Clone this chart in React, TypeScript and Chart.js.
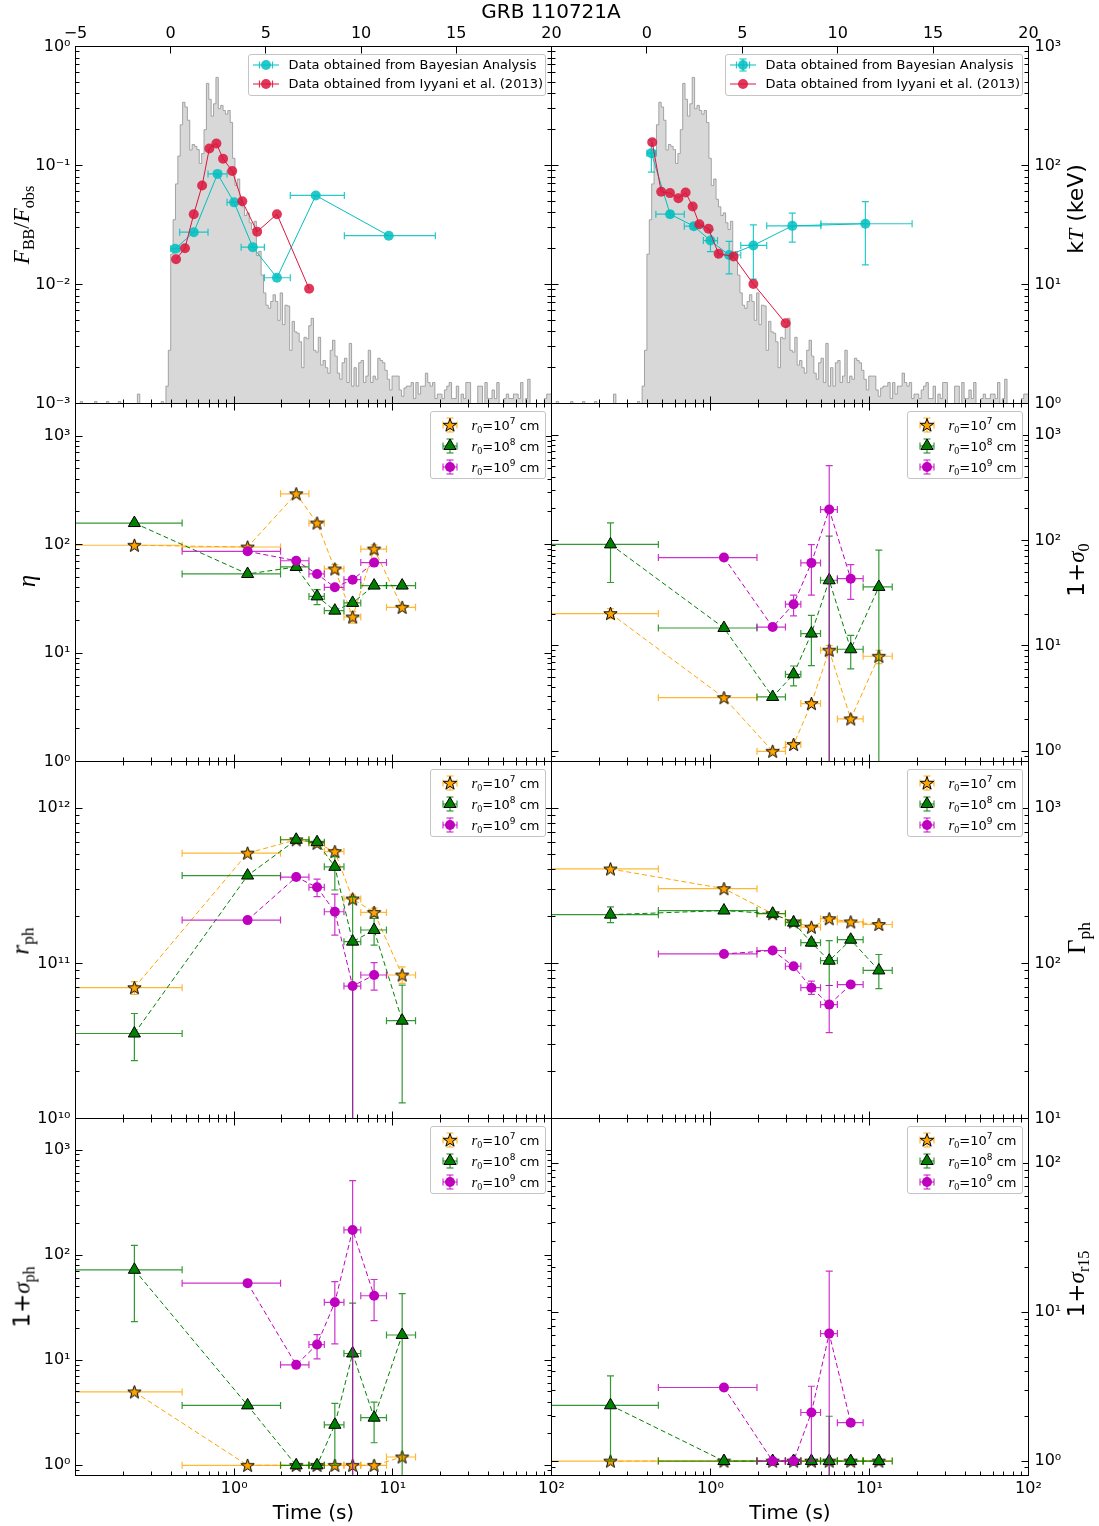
import React, { useEffect, useRef } from "react";
import { Chart, registerables } from "chart.js";

Chart.register(...registerables);

const PAGE_W = 1099;
const PAGE_H = 1526;
const SANS = '"DejaVu Sans", sans-serif';
const SERIF = '"Liberation Serif", "DejaVu Serif", serif';

// ---------------- data ----------------
// light curve (counts histogram), bins of LC_BIN seconds starting at LC_START
const LC_START = -5;
const LC_BIN = 0.125;
const LC_END = 20;
const LIGHT_CURVE = [
  0.0009, 0.0009, 0.0009, 0.00104, 0.0009, 0.0009, 0.0009, 0.0009,
  0.0009, 0.00104, 0.0009, 0.0009, 0.0009, 0.0009, 0.00104, 0.0009,
  0.0009, 0.0009, 0.0009, 0.00104, 0.0009, 0.0009, 0.0009, 0.0009,
  0.0009, 0.0009, 0.0009, 0.0012, 0.0009, 0.0009, 0.0009, 0.0009,
  0.0009, 0.0009, 0.0009, 0.0009, 0.0009, 0.00104, 0.0009, 0.0014,
  0.0028, 0.018, 0.035, 0.07, 0.12, 0.22, 0.34, 0.31,
  0.24, 0.135, 0.15, 0.145, 0.136, 0.104, 0.126, 0.2,
  0.49, 0.36, 0.26, 0.33, 0.55, 0.3, 0.32, 0.29,
  0.27, 0.29, 0.23, 0.115, 0.068, 0.077, 0.052, 0.045,
  0.038, 0.04, 0.033, 0.029, 0.034, 0.0175, 0.019, 0.012,
  0.0085, 0.0067, 0.0063, 0.0072, 0.0082, 0.0072, 0.005, 0.0085,
  0.0046, 0.0067, 0.0066, 0.0028, 0.0049, 0.004, 0.0039, 0.0033,
  0.002, 0.0036, 0.0035, 0.0045, 0.0052, 0.0028, 0.0027, 0.0036,
  0.0021, 0.0023, 0.002, 0.0018, 0.0028, 0.0034, 0.0025, 0.0018,
  0.0016, 0.0022, 0.0024, 0.0015, 0.0032, 0.0014, 0.002, 0.0014,
  0.0022, 0.0023, 0.0015, 0.0017, 0.0028, 0.0015, 0.0017, 0.0016,
  0.0024, 0.0023, 0.0022, 0.0019, 0.0016, 0.0013, 0.0017, 0.0017,
  0.0017, 0.0013, 0.00115, 0.00135, 0.0014, 0.0014, 0.0015, 0.0011,
  0.0015, 0.0012, 0.0014, 0.0014, 0.0018, 0.0015, 0.0014, 0.0015,
  0.0011, 0.0012, 0.0012, 0.0011, 0.0013, 0.0014, 0.0015, 0.0011,
  0.0011, 0.0014, 0.0009, 0.0012, 0.0011, 0.0015, 0.0015, 0.0009,
  0.0009, 0.0009, 0.0014, 0.0014, 0.0009, 0.0015, 0.0011, 0.0011,
  0.0013, 0.0011, 0.0015, 0.0009, 0.0009, 0.0011, 0.0012, 0.0011,
  0.0011, 0.0012, 0.0012, 0.0011, 0.0015, 0.0009, 0.0011, 0.0016,
  0.0009, 0.0009, 0.0009, 0.0009, 0.0009, 0.0009, 0.0011, 0.0012,
];

// time bins of the Bayesian analysis
const TIME_BIN_CENTER = [0.235, 1.215, 2.46, 3.33, 4.31, 5.58, 7.62, 11.45];
const TIME_BIN_START = [0, 0.47, 1.96, 2.96, 3.7, 4.92, 6.28, 9.12];
const TIME_BIN_END = [0.47, 1.96, 2.96, 3.7, 4.92, 6.28, 9.12, 13.9];

// top panels
const BAYES_FBB = [0.02, 0.0275, 0.085, 0.049, 0.0206, 0.0114, 0.056, 0.0257];
const IYYANI_TIME = [0.28, 0.75, 1.21, 1.65, 2.03, 2.4, 2.75, 3.23, 3.76, 4.54, 5.58, 7.27];
const IYYANI_FBB = [0.0163, 0.0202, 0.039, 0.068, 0.139, 0.153, 0.114, 0.09, 0.05, 0.0278, 0.039, 0.0092];
const BAYES_KT = [127, 39, 30.9, 23.4, 17.7, 21.3, 31.1, 32.4];
const BAYES_KT_LO = [88, 36.8, 29.3, 18.9, 12.3, 11.1, 22.7, 14.6];
const BAYES_KT_HI = [164, 41.1, 32.6, 28.8, 23, 31.7, 39.8, 49.8];
const IYYANI_KT = [157, 60.1, 58.6, 53.1, 59.3, 45.2, 32.1, 29.4, 18.1, 17.2, 10.1, 4.73];

// eta
const ETA_R7 = [98.6, 95, 294, 158, 59.6, 21.5, 91, 26.4];
const ETA_R7_LO = [95, 92, 285, 152, 54.7, 18.9, 82, 25];
const ETA_R7_HI = [102, 98, 303, 164, 65.3, 24.1, 99.3, 27.8];
const ETA_R8 = [158, 53.6, 62.2, 33.3, 24.6, 29, 41.9, 41.9];
const ETA_R8_LO = [152, 51.5, 59.5, 27.9, 23.5, 27.5, 40.5, 40.5];
const ETA_R8_HI = [164, 55.8, 65, 38.5, 25.8, 30.5, 43.4, 43.4];
const ETA_R9 = [null, 86.7, 71, 53.6, 40.4, 47.5, 68.2, null];
const ETA_R9_LO = [null, 84, 68.5, 51.5, 38.8, 45.5, 65.5, null];
const ETA_R9_HI = [null, 89.5, 73.5, 55.8, 42, 49.5, 71, null];

// 1 + sigma_0
const S0_R7 = [20.3, 3.23, 1.0, 1.16, 2.84, 9.1, 2.03, 7.98];
const S0_R7_LO = [18.2, 3.1, 0.97, 1.1, 2.7, 8.15, 1.95, 6.8];
const S0_R7_HI = [22.6, 3.35, 1.03, 1.22, 3.0, 10.1, 2.12, 9.1];
const S0_R8 = [92, 14.8, 3.28, 5.38, 13.1, 42, 9.3, 36.3];
const S0_R8_LO = [40, 14.3, 3.1, 4.17, 6.5, 0.01, 6.05, 0.01];
const S0_R8_HI = [147, 15.3, 3.45, 6.45, 19.5, 110, 12.6, 81];
const S0_R9 = [null, 69, 15.1, 24.9, 61.4, 197, 43.5, null];
const S0_R9_LO = [null, 67, 14.6, 19.3, 30.3, 0.01, 27.7, null];
const S0_R9_HI = [null, 71, 15.6, 30.3, 91.6, 515, 59, null];

// r_ph
const RPH_R7 = [6.97e10, 5.13e11, 6.26e11, 5.94e11, 5.25e11, 2.6e11, 2.13e11, 8.41e10];
const RPH_R7_LO = [6.3e10, 4.95e11, 6.1e11, 5.75e11, 5.05e11, 2.45e11, 2.0e11, 7.43e10];
const RPH_R7_HI = [7.62e10, 5.3e11, 6.45e11, 6.15e11, 5.45e11, 2.75e11, 2.27e11, 9.5e10];
const RPH_R8 = [3.53e10, 3.68e11, 6.26e11, 6.04e11, 4.19e11, 1.38e11, 1.64e11, 4.27e10];
const RPH_R8_LO = [2.36e10, 3.6e11, 6.1e11, 5.85e11, 2.97e11, 1e9, 1.31e11, 1.26e10];
const RPH_R8_HI = [4.75e10, 3.76e11, 6.4e11, 6.25e11, 4.88e11, 2.69e11, 1.95e11, 7.24e10];
const RPH_R9 = [null, 1.9e11, 3.6e11, 3.09e11, 2.15e11, 7.14e10, 8.41e10, null];
const RPH_R9_LO = [null, 1.86e11, 3.5e11, 2.69e11, 1.52e11, 1e9, 6.73e10, null];
const RPH_R9_HI = [null, 1.94e11, 3.7e11, 3.49e11, 2.79e11, 7.3e10, 1.01e11, null];

// Gamma_ph
const GPH_R7 = [406, 303, 209, 185, 171, 194, 185, 178];
const GPH_R7_LO = [396, 295, 204, 180, 165, 188, 180, 173];
const GPH_R7_HI = [416, 311, 214, 190, 177, 200, 190, 183];
const GPH_R8 = [206, 219, 209, 183, 136, 104, 142, 90];
const GPH_R8_LO = [183, 213, 203, 177, 129, 72, 136, 68.7];
const GPH_R8_HI = [231, 225, 215, 189, 143, 140, 148, 114];
const GPH_R9 = [null, 115, 121, 95.8, 69.7, 54.2, 73, null];
const GPH_R9_LO = [null, 113, 119, 93, 63.1, 35.8, 70.5, null];
const GPH_R9_HI = [null, 117, 123, 98.6, 76.9, 72, 75.6, null];

// 1 + sigma_ph
const SPH_R7 = [5.0, 1.0, 1.0, 1.0, 1.0, 1.0, 1.0, 1.2];
const SPH_R8 = [72.6, 3.72, 1.0, 1.0, 2.43, 11.6, 2.84, 17.4];
const SPH_R8_LO = [23.3, 3.6, null, null, 1.0, 0.01, 1.64, 0.01];
const SPH_R8_HI = [124, 3.85, null, null, 3.88, 35, 4.0, 43];
const SPH_R9 = [null, 54.2, 9.04, 14.1, 35.6, 174, 41.1, null];
const SPH_R9_LO = [null, null, null, 10.3, 14.3, 0.01, 23.8, null];
const SPH_R9_HI = [null, null, null, 17.5, 56, 512, 58.7, null];

// 1 + sigma_r15
const SR15_R7 = [1.0, 1.0, 1.0, 1.0, 1.0, 1.0, 1.0, 1.0];
const SR15_R8 = [2.37, 1.0, 1.0, 1.0, 1.0, 1.0, 1.0, 1.0];
const SR15_R8_LO = [1.0, null, null, null, null, 0.01, null, null];
const SR15_R8_HI = [3.73, null, null, null, null, 2.0, null, null];
const SR15_R9 = [null, 3.12, 1.0, 1.0, 2.12, 7.18, 1.81, null];
const SR15_R9_LO = [null, null, null, null, 1.0, 0.01, null, null];
const SR15_R9_HI = [null, null, null, null, 3.18, 18.9, null, null];

const TOP_TICKS = [-5, 0, 5, 10, 15, 20];
const R0_EXPONENTS = ["7", "8", "9"];

// ---------------- layout ----------------
const COLS = [
  [75.5, 551.5],
  [551.5, 1028.5],
];
const ROWS = [
  [46.5, 403.5],
  [403.5, 761.5],
  [761.5, 1118.5],
  [1118.5, 1475.5],
];
const Y_AXIS_W = 66;
const X_AXIS_H = 30;

const R0_COLOR = ["#FFA500", "#008000", "#BF00BF"];
const R0_ERR = ["rgba(255,165,0,0.8)", "rgba(0,128,0,0.8)", "rgba(191,0,191,0.8)"];
const CYAN = "#00BFBF";
const CYAN_A = "rgba(0,191,191,0.85)";
const RED = "#DC143C";
const RED_A = "rgba(220,20,60,0.85)";

const SUP: Record<string, string> = {
  "0": "\u2070", "1": "\u00b9", "2": "\u00b2", "3": "\u00b3", "4": "\u2074",
  "5": "\u2075", "6": "\u2076", "7": "\u2077", "8": "\u2078", "9": "\u2079", "-": "\u207b",
};
const pow10Label = (v: number) => {
  const e = Math.round(Math.log10(v));
  return "10" + String(e).split("").map((c) => SUP[c]).join("");
};
const decades = (min: number, max: number) => {
  const out: number[] = [];
  for (let e = Math.ceil(Math.log10(min) - 1e-9); e <= Math.floor(Math.log10(max) + 1e-9); e++) out.push(Number("1e" + e));
  return out;
};
const logTicks = (min: number, max: number) => {
  const out: { v: number; major: boolean }[] = [];
  for (let e = Math.floor(Math.log10(min)) - 1; e <= Math.ceil(Math.log10(max)); e++) {
    for (let k = 1; k <= 9; k++) {
      const v = k * Number("1e" + e);
      if (v >= min * (1 - 1e-9) && v <= max * (1 + 1e-9)) out.push({ v, major: k === 1 });
    }
  }
  return out;
};

// ---------------- plugins ----------------
const errorBarPlugin = {
  id: "errorBars",
  beforeDatasetDraw(chart: any, args: any) {
    const ds: any = chart.data.datasets[args.index];
    if (!ds.errorBars) return;
    const xs = chart.scales[ds.xAxisID];
    const ys = chart.scales[ds.yAxisID];
    const a = chart.chartArea;
    const ctx = chart.ctx;
    const px = (s: any, v: number) =>
      s.getPixelForValue(s.type === "logarithmic" && v <= 0 ? s.min / 1000 : v);
    const cap = 3.5;
    ctx.save();
    ctx.beginPath();
    ctx.rect(a.left, a.top, a.right - a.left, a.bottom - a.top);
    ctx.clip();
    ctx.strokeStyle = ds.errorColor;
    ctx.lineWidth = 1.2;
    ctx.setLineDash([]);
    ds.data.forEach((p: any, i: number) => {
      if (p.y == null) return;
      const e = ds.errorBars[i];
      if (!e) return;
      const cx = px(xs, p.x);
      const cy = px(ys, p.y);
      ctx.beginPath();
      if (e.xLo != null && e.xHi != null) {
        const x0 = px(xs, e.xLo);
        const x1 = px(xs, e.xHi);
        ctx.moveTo(x0, cy); ctx.lineTo(x1, cy);
        ctx.moveTo(x0, cy - cap); ctx.lineTo(x0, cy + cap);
        ctx.moveTo(x1, cy - cap); ctx.lineTo(x1, cy + cap);
      }
      if (e.yLo != null && e.yHi != null) {
        const y0 = px(ys, e.yLo);
        const y1 = px(ys, e.yHi);
        ctx.moveTo(cx, y0); ctx.lineTo(cx, y1);
        ctx.moveTo(cx - cap, y0); ctx.lineTo(cx + cap, y0);
        ctx.moveTo(cx - cap, y1); ctx.lineTo(cx + cap, y1);
      }
      ctx.stroke();
    });
    ctx.restore();
  },
};

const tickList = (s: any) =>
  s.type === "logarithmic" ? logTicks(s.min, s.max) : s.ticks.map((t: any) => ({ v: t.value, major: true }));

const framePlugin = {
  id: "frame",
  afterDraw(chart: any, _args: any, opts: any) {
    const a = chart.chartArea;
    const ctx = chart.ctx;
    const MAJ = 7;
    const MIN = 4;
    ctx.save();
    ctx.strokeStyle = "#000";
    ctx.lineWidth = 1;
    ctx.setLineDash([]);
    const snap = (p: number) => Math.floor(p) + 0.5;
    const xTicks = (id: string, edge: string) => {
      const s = chart.scales[id];
      if (!s) return;
      for (const t of tickList(s)) {
        const p = snap(s.getPixelForValue(t.v));
        if (p < a.left - 1 || p > a.right + 1) continue;
        const L = t.major ? MAJ : MIN;
        ctx.beginPath();
        if (edge === "top") { ctx.moveTo(p, a.top); ctx.lineTo(p, a.top + L); }
        else { ctx.moveTo(p, a.bottom); ctx.lineTo(p, a.bottom - L); }
        ctx.stroke();
      }
    };
    const yTicks = (id: string) => {
      const s = chart.scales[id];
      if (!s) return;
      for (const t of tickList(s)) {
        const p = snap(s.getPixelForValue(t.v));
        if (p < a.top - 1 || p > a.bottom + 1) continue;
        const L = t.major ? MAJ : MIN;
        ctx.beginPath();
        ctx.moveTo(a.left, p); ctx.lineTo(a.left + L, p);
        ctx.moveTo(a.right, p); ctx.lineTo(a.right - L, p);
        ctx.stroke();
      }
    };
    xTicks(opts.top, "top");
    xTicks(opts.bottom, "bottom");
    yTicks(opts.y);
    ctx.strokeRect(a.left, a.top, a.right - a.left, a.bottom - a.top);
    ctx.restore();
  },
};

// ---------------- scales ----------------
const fitSize = (axis: string, size: number) => (s: any) => {
  if (axis === "x") s.height = size;
  else s.width = size;
  s.paddingLeft = 0; s.paddingRight = 0; s.paddingTop = 0; s.paddingBottom = 0;
};

function logAxis(axis: string, position: string, min: number, max: number, showLabels: boolean, hide: number[], pad: number) {
  const size = showLabels ? (axis === "x" ? X_AXIS_H : Y_AXIS_W) : 0;
  return {
    axis, type: "logarithmic", position, min, max, bounds: "data",
    grid: { display: false, drawTicks: false },
    border: { display: false },
    ticks: {
      display: showLabels, autoSkip: false, maxRotation: 0, minRotation: 0, padding: pad, color: "#000",
      font: { family: SANS, size: 16 },
      callback: (v: number) => (hide.some((h) => Math.abs(v / h - 1) < 1e-6) ? "" : pow10Label(v)),
    },
    afterBuildTicks: (s: any) => { s.ticks = decades(min, max).map((v) => ({ value: v })); },
    afterFit: fitSize(axis, size),
  };
}

function linTopAxis(hideFirst: boolean) {
  return {
    axis: "x", type: "linear", position: "top", min: -5, max: 20, bounds: "data",
    grid: { display: false, drawTicks: false },
    border: { display: false },
    ticks: {
      autoSkip: false, maxRotation: 0, minRotation: 0, padding: 3, color: "#000",
      font: { family: SANS, size: 16 },
      callback: (v: number) => (hideFirst && v === -5 ? "" : v < 0 ? "\u2212" + Math.abs(v) : String(v)),
    },
    afterBuildTicks: (s: any) => { s.ticks = TOP_TICKS.map((v) => ({ value: v })); },
    afterFit: fitSize("x", X_AXIS_H),
  };
}

function commonOptions(col: number, row: number, sides: { left: number; right: number; top: number; bottom: number }) {
  const [x0, x1] = COLS[col];
  const [y0, y1] = ROWS[row];
  return {
    responsive: false,
    maintainAspectRatio: false,
    animation: false,
    events: [],
    layout: {
      autoPadding: false,
      padding: {
        left: x0 - sides.left,
        right: PAGE_W - x1 - sides.right,
        top: y0 - sides.top,
        bottom: PAGE_H - y1 - sides.bottom,
      },
    },
  };
}

// ---------------- markers ----------------
let STAR_CANVAS: HTMLCanvasElement | null = null;
function starPoints(cx: number, cy: number, R: number, r: number) {
  const pts: [number, number][] = [];
  for (let k = 0; k < 10; k++) {
    const ang = -Math.PI / 2 + (k * Math.PI) / 5;
    const rr = k % 2 === 0 ? R : r;
    pts.push([cx + rr * Math.cos(ang), cy + rr * Math.sin(ang)]);
  }
  return pts;
}
function starImage() {
  if (STAR_CANVAS) return STAR_CANVAS;
  const c = document.createElement("canvas");
  c.width = 17; c.height = 17;
  const g = c.getContext("2d")!;
  const pts = starPoints(8.5, 9, 7, 2.8);
  g.beginPath();
  pts.forEach(([x, y], i) => (i ? g.lineTo(x, y) : g.moveTo(x, y)));
  g.closePath();
  g.fillStyle = R0_COLOR[0];
  g.fill();
  g.lineWidth = 1;
  g.strokeStyle = "#000";
  g.stroke();
  STAR_CANVAS = c;
  return c;
}

// ---------------- datasets ----------------
type Arr = (number | null)[];
function r0Dataset(kind: number, ys: Arr, lo: Arr | null, hi: Arr | null) {
  const c = R0_COLOR[kind];
  return {
    data: TIME_BIN_CENTER.map((t, i) => ({ x: t, y: ys[i] })),
    xAxisID: "x", yAxisID: "y", order: 3 - kind,
    borderColor: c, borderWidth: 1, borderDash: [5, 3], fill: false, spanGaps: false,
    pointStyle: kind === 0 ? starImage() : kind === 1 ? "triangle" : "circle",
    pointRadius: kind === 0 ? 7 : kind === 1 ? 7 : 5,
    pointBackgroundColor: c,
    pointBorderColor: kind === 2 ? c : "#000",
    pointBorderWidth: kind === 2 ? 0 : 1,
    errorBars: TIME_BIN_CENTER.map((_, i) => ({
      xLo: TIME_BIN_START[i], xHi: TIME_BIN_END[i],
      yLo: lo ? lo[i] : null, yHi: hi ? hi[i] : null,
    })),
    errorColor: R0_ERR[kind],
  };
}

function lightCurveDataset(yAxisID: string) {
  const pts = LIGHT_CURVE.map((v, i) => ({ x: LC_START + i * LC_BIN, y: v }));
  pts.push({ x: LC_END, y: LIGHT_CURVE[LIGHT_CURVE.length - 1] });
  return {
    data: pts, xAxisID: "xt", yAxisID, stepped: "after", fill: "start", clip: 0,
    backgroundColor: "rgb(216,216,216)", borderColor: "rgba(150,150,150,0.85)", borderWidth: 1,
    pointRadius: 0, order: 10,
  };
}

function topPanel(col: number) {
  const left = col === 0;
  const bayesY = left ? BAYES_FBB : BAYES_KT;
  const iyyY = left ? IYYANI_FBB : IYYANI_KT;
  const scales: any = {
    xt: linTopAxis(!left),
    x: logAxis("x", "bottom", 0.1, 100, false, [], 4),
    y: left ? logAxis("y", "left", 1e-3, 1, true, [], 5) : logAxis("y", "right", 1, 1000, true, [], 6),
  };
  if (!left) scales.yh = { axis: "y", type: "logarithmic", position: "left", display: false, min: 1e-3, max: 1 };
  return {
    type: "line",
    data: {
      datasets: [
        lightCurveDataset(left ? "y" : "yh"),
        {
          data: TIME_BIN_CENTER.map((t, i) => ({ x: t, y: bayesY[i] })),
          xAxisID: "xt", yAxisID: "y", order: 2,
          borderColor: CYAN, borderWidth: 1, fill: false,
          pointRadius: 5, pointBackgroundColor: CYAN_A, pointBorderWidth: 0,
          errorBars: TIME_BIN_CENTER.map((_, i) => ({
            xLo: TIME_BIN_START[i], xHi: TIME_BIN_END[i],
            yLo: left ? null : BAYES_KT_LO[i], yHi: left ? null : BAYES_KT_HI[i],
          })),
          errorColor: CYAN_A,
        },
        {
          data: IYYANI_TIME.map((t, i) => ({ x: t, y: iyyY[i] })),
          xAxisID: "xt", yAxisID: "y", order: 1,
          borderColor: RED, borderWidth: 1, fill: false,
          pointRadius: 5, pointBackgroundColor: RED_A, pointBorderWidth: 0,
        },
      ],
    },
    options: {
      ...commonOptions(col, 0, { left: left ? Y_AXIS_W : 0, right: left ? 0 : Y_AXIS_W, top: X_AXIS_H, bottom: 0 }),
      plugins: { legend: { display: false }, tooltip: { enabled: false }, frame: { top: "xt", bottom: "x", y: "y" } },
      scales,
    },
    plugins: [errorBarPlugin, framePlugin],
  };
}

function lowerPanel(col: number, row: number, yMin: number, yMax: number, s: [Arr, Arr | null, Arr | null][]) {
  const bottom = row === 3;
  const left = col === 0;
  return {
    type: "line",
    data: { datasets: s.map((v, k) => r0Dataset(k, v[0], v[1], v[2])) },
    options: {
      ...commonOptions(col, row, {
        left: left ? Y_AXIS_W : 0,
        right: left ? 0 : Y_AXIS_W,
        top: 0,
        bottom: bottom ? X_AXIS_H : 0,
      }),
      plugins: { legend: { display: false }, tooltip: { enabled: false }, frame: { top: "x", bottom: "x", y: "y" } },
      scales: {
        x: logAxis("x", "bottom", 0.1, 100, bottom, [0.1], 4),
        y: logAxis("y", left ? "left" : "right", yMin, yMax, true, [], left ? 5 : 6),
      },
    },
    plugins: [errorBarPlugin, framePlugin],
  };
}

const PANELS: (() => any)[] = [
  () => topPanel(0),
  () => topPanel(1),
  () => lowerPanel(0, 1, 1, 2000, [[ETA_R7, ETA_R7_LO, ETA_R7_HI], [ETA_R8, ETA_R8_LO, ETA_R8_HI], [ETA_R9, ETA_R9_LO, ETA_R9_HI]]),
  () => lowerPanel(1, 1, 0.8, 2000, [[S0_R7, S0_R7_LO, S0_R7_HI], [S0_R8, S0_R8_LO, S0_R8_HI], [S0_R9, S0_R9_LO, S0_R9_HI]]),
  () => lowerPanel(0, 2, 1e10, 2e12, [[RPH_R7, RPH_R7_LO, RPH_R7_HI], [RPH_R8, RPH_R8_LO, RPH_R8_HI], [RPH_R9, RPH_R9_LO, RPH_R9_HI]]),
  () => lowerPanel(1, 2, 10, 2000, [[GPH_R7, GPH_R7_LO, GPH_R7_HI], [GPH_R8, GPH_R8_LO, GPH_R8_HI], [GPH_R9, GPH_R9_LO, GPH_R9_HI]]),
  () => lowerPanel(0, 3, 0.8, 2000, [[SPH_R7, null, null], [SPH_R8, SPH_R8_LO, SPH_R8_HI], [SPH_R9, SPH_R9_LO, SPH_R9_HI]]),
  () => lowerPanel(1, 3, 0.8, 200, [[SR15_R7, null, null], [SR15_R8, SR15_R8_LO, SR15_R8_HI], [SR15_R9, SR15_R9_LO, SR15_R9_HI]]),
];

// ---------------- components ----------------
function PanelCanvas({ build }: { build: () => any }) {
  const ref = useRef<HTMLCanvasElement>(null);
  useEffect(() => {
    const chart = new Chart(ref.current as HTMLCanvasElement, build());
    return () => chart.destroy();
  }, []);
  return (
    <canvas
      ref={ref}
      width={PAGE_W}
      height={PAGE_H}
      style={{ position: "absolute", left: 0, top: 0, width: PAGE_W, height: PAGE_H }}
    />
  );
}

const mathI: React.CSSProperties = { fontFamily: SERIF, fontStyle: "italic" };
const Sub = ({ children }: { children: React.ReactNode }) => (
  <span style={{ fontFamily: SERIF, fontStyle: "normal", fontSize: "0.7em", position: "relative", top: "0.3em" }}>{children}</span>
);

function Centered({ x, y, size, rotate, children }: { x: number; y: number; size: number; rotate?: boolean; children: React.ReactNode }) {
  return (
    <div
      style={{
        position: "absolute", left: x, top: y, whiteSpace: "nowrap", fontSize: size, lineHeight: 1,
        fontFamily: SANS, transform: `translate(-50%, -50%)${rotate ? " rotate(-90deg)" : ""}`,
      }}
    >
      {children}
    </div>
  );
}

function TopIcon({ color, xerr, yerr, caps }: { color: string; xerr: boolean; yerr: boolean; caps: string }) {
  return (
    <svg width={30} height={20} style={{ position: "absolute", left: -15, top: -10, overflow: "visible" }}>
      <line x1={2} y1={10} x2={28} y2={10} stroke={color} strokeWidth={1} />
      {xerr && (
        <g stroke={caps} strokeWidth={1.2}>
          <line x1={8.5} y1={6.5} x2={8.5} y2={13.5} />
          <line x1={21.5} y1={6.5} x2={21.5} y2={13.5} />
        </g>
      )}
      {yerr && (
        <g stroke={caps} strokeWidth={1.2}>
          <line x1={15} y1={4} x2={15} y2={16} />
          <line x1={11.5} y1={4} x2={18.5} y2={4} />
          <line x1={11.5} y1={16} x2={18.5} y2={16} />
        </g>
      )}
      <circle cx={15} cy={10} r={5} fill={caps} />
    </svg>
  );
}

function R0Icon({ kind }: { kind: number }) {
  const c = R0_COLOR[kind];
  const e = R0_ERR[kind];
  const star = starPoints(13, 11.5, 7, 2.8).map((p) => p.join(",")).join(" ");
  return (
    <svg width={26} height={22} style={{ position: "absolute", left: -13, top: -11, overflow: "visible" }}>
      <g stroke={e} strokeWidth={1.2}>
        <line x1={6} y1={11} x2={20} y2={11} />
        <line x1={6} y1={7.5} x2={6} y2={14.5} />
        <line x1={20} y1={7.5} x2={20} y2={14.5} />
        <line x1={13} y1={4} x2={13} y2={18} />
        <line x1={9.5} y1={4} x2={16.5} y2={4} />
        <line x1={9.5} y1={18} x2={16.5} y2={18} />
      </g>
      {kind === 0 && <polygon points={star} fill={c} stroke="#000" strokeWidth={1} />}
      {kind === 1 && <polygon points="13,4 19.1,14.5 6.9,14.5" fill={c} stroke="#000" strokeWidth={1} />}
      {kind === 2 && <circle cx={13} cy={11} r={5} fill={c} />}
    </svg>
  );
}

function R0Text({ p }: { p: string }) {
  return (
    <span style={{ fontSize: 13, whiteSpace: "nowrap" }}>
      <span style={{ fontFamily: SERIF, fontStyle: "italic", fontSize: 15 }}>r</span>
      <span style={{ fontFamily: SERIF, fontSize: 10, position: "relative", top: 3 }}>0</span>
      =10<span style={{ fontSize: 9, position: "relative", top: -6 }}>{p}</span> cm
    </span>
  );
}

const legendBox: React.CSSProperties = {
  position: "absolute", background: "rgba(255,255,255,0.92)", border: "1px solid #c4c4c4",
  borderRadius: 3, boxSizing: "border-box",
};

function TopLegend({ col }: { col: number }) {
  const left = COLS[col][1] - 6 - 298;
  const rows = [
    { y: 10, icon: <TopIcon color={CYAN} xerr yerr={col === 1} caps={CYAN_A} />, text: "Data obtained from Bayesian Analysis" },
    { y: 29, icon: <TopIcon color={RED} xerr={col === 0} yerr={false} caps={RED_A} />, text: "Data obtained from Iyyani et al. (2013)" },
  ];
  return (
    <div style={{ ...legendBox, left, top: ROWS[0][0] + 7.5, width: 298, height: 42 }}>
      {rows.map((r, i) => (
        <React.Fragment key={i}>
          <div style={{ position: "absolute", left: 17, top: r.y }}>{r.icon}</div>
          <div style={{ position: "absolute", left: 40, top: r.y - 8, fontSize: 13, lineHeight: "16px", whiteSpace: "nowrap" }}>{r.text}</div>
        </React.Fragment>
      ))}
    </div>
  );
}

function R0Legend({ col, row }: { col: number; row: number }) {
  const left = COLS[col][1] - 6 - 116;
  const ys = [13, 34, 55];
  return (
    <div style={{ ...legendBox, left, top: ROWS[row][0] + 7, width: 116, height: 68 }}>
      {ys.map((y, k) => (
        <React.Fragment key={k}>
          <div style={{ position: "absolute", left: 19, top: y }}><R0Icon kind={k} /></div>
          <div style={{ position: "absolute", left: 41, top: y - 9, lineHeight: "18px" }}><R0Text p={R0_EXPONENTS[k]} /></div>
        </React.Fragment>
      ))}
    </div>
  );
}

export default function App() {
  Chart.defaults.font.family = SANS;
  return (
    <div
      style={{
        position: "absolute", left: 0, top: 0, width: PAGE_W, height: PAGE_H, background: "#fff",
        overflow: "hidden", fontFamily: SANS, color: "#000",
      }}
    >
      {PANELS.map((b, i) => (
        <PanelCanvas key={i} build={b} />
      ))}

      <Centered x={551} y={11} size={20}>GRB 110721A</Centered>
      <Centered x={313.5} y={1512} size={20}>Time (s)</Centered>
      <Centered x={790} y={1512} size={20}>Time (s)</Centered>

      {/* left axis labels */}
      <Centered x={21} y={225} size={23} rotate>
        <span style={mathI}>F</span><Sub>BB</Sub><span style={{ fontFamily: SERIF }}>/</span>
        <span style={mathI}>F</span><Sub>obs</Sub>
      </Centered>
      <Centered x={26} y={581} size={25} rotate>
        <span style={mathI}>η</span>
      </Centered>
      <Centered x={20} y={941} size={25} rotate>
        <span style={mathI}>r</span><Sub>ph</Sub>
      </Centered>
      <Centered x={22} y={1297} size={23} rotate>
        1+<span style={mathI}>σ</span><Sub>ph</Sub>
      </Centered>

      {/* right axis labels */}
      <Centered x={1076} y={209} size={22} rotate>
        k<span style={mathI}>T</span> (keV)
      </Centered>
      <Centered x={1076} y={570} size={23} rotate>
        1+<span style={mathI}>σ</span><Sub>0</Sub>
      </Centered>
      <Centered x={1076} y={938} size={25} rotate>
        <span style={{ fontFamily: SERIF }}>Γ</span><Sub>ph</Sub>
      </Centered>
      <Centered x={1076} y={1284} size={23} rotate>
        1+<span style={mathI}>σ</span><Sub>r15</Sub>
      </Centered>

      <TopLegend col={0} />
      <TopLegend col={1} />
      <R0Legend col={0} row={1} />
      <R0Legend col={1} row={1} />
      <R0Legend col={0} row={2} />
      <R0Legend col={1} row={2} />
      <R0Legend col={0} row={3} />
      <R0Legend col={1} row={3} />
    </div>
  );
}
